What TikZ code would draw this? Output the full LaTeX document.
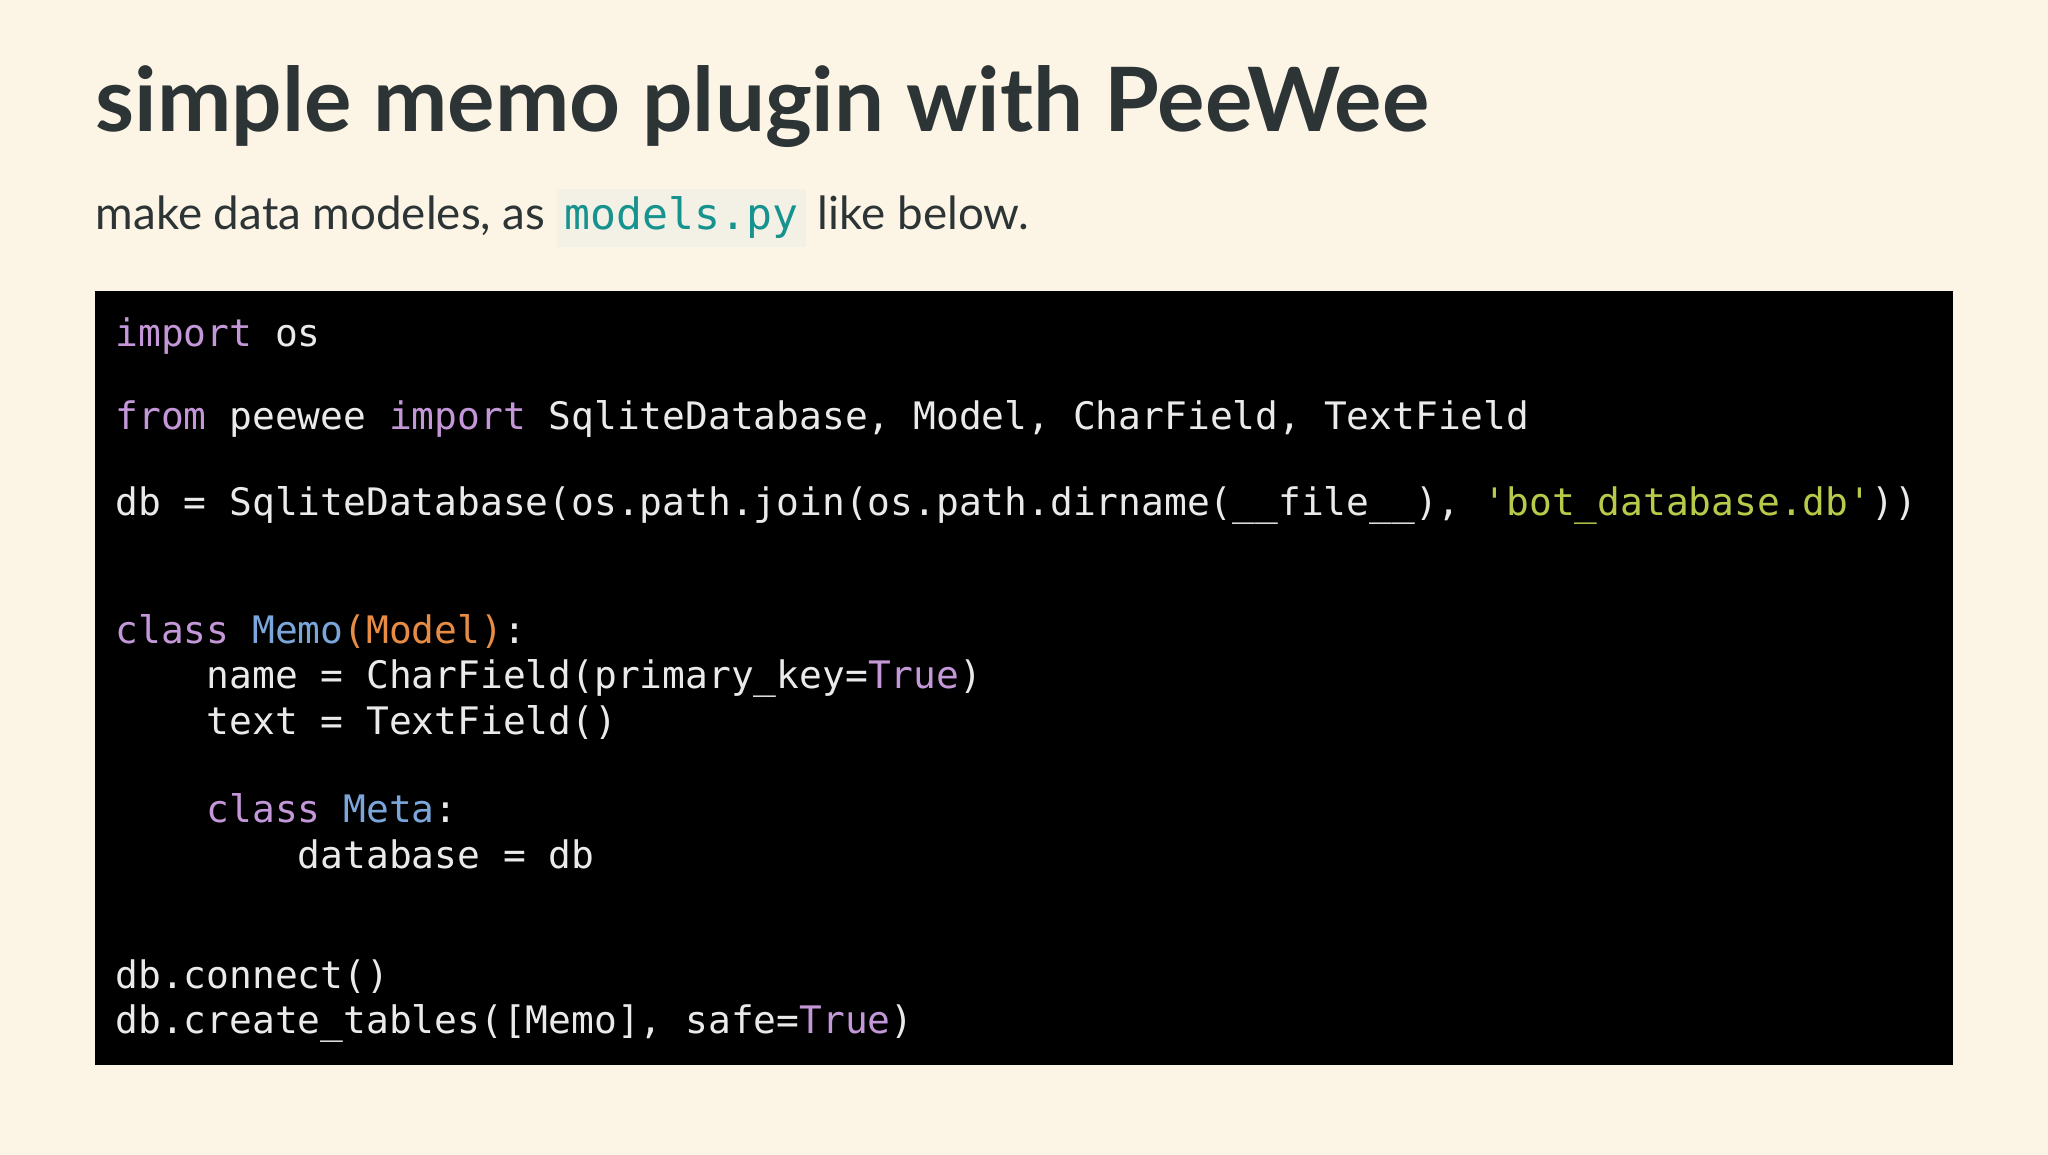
\documentclass[tikz,border=0pt]{standalone}
\usepackage{fontspec}
\setmainfont{Lato}
\newfontfamily\codefont{DejaVu Sans Mono}
\definecolor{bg}{HTML}{FCF5E6}
\definecolor{ttl}{HTML}{2D3436}
\definecolor{kw}{HTML}{C397D8}
\definecolor{cls}{HTML}{7AA6DA}
\definecolor{mdl}{HTML}{E78C45}
\definecolor{str}{HTML}{B9CA4A}
\definecolor{ctext}{HTML}{EAEAEA}
\definecolor{teal}{HTML}{16938E}
\definecolor{inl}{HTML}{F3F1E6}
\tikzset{code/.style={anchor=base west,inner sep=0pt,text=ctext,font=\codefont\fontsize{14.5}{16}\selectfont}}
\begin{document}
\begin{tikzpicture}[x=0.5pt,y=-0.5pt]
\fill[bg] (0,0) rectangle (1568,884);
\useasboundingbox (0,0) rectangle (1568,884);
\node[anchor=base west,inner sep=0pt,text=ttl,font=\bfseries\fontsize{34}{40}\selectfont] (title) at (73,101) {simple memo plugin with PeeWee};
\node[anchor=base west,inner sep=0pt,text=ttl,font=\fontsize{17.5}{20}\selectfont] (sub) at (73,176) {make data modeles, as \colorbox{inl}{\textcolor{teal}{\codefont\fontsize{16.5}{18}\selectfont models.py}} like below.};
\fill[black] (73,223) rectangle (1495,815);
\node[code] (l1) at (88,265) {\textcolor{kw}{import} os};
\node[code] (l2) at (88,329) {\textcolor{kw}{from} peewee \textcolor{kw}{import} SqliteDatabase, Model, CharField, TextField};
\node[code] (l3) at (88,395) {db = SqliteDatabase(os.path.join(os.path.dirname(\_\_file\_\_), \textcolor{str}{'bot\_database.db'}))};
\node[code] (l4) at (88,493) {\textcolor{kw}{class} \textcolor{cls}{Memo}\textcolor{mdl}{(Model)}:};
\node[code] (l5) at (88,527) {\phantom{xxxx}name = CharField(primary\_key=\textcolor{kw}{True})};
\node[code] (l6) at (88,562) {\phantom{xxxx}text = TextField()};
\node[code] (l7) at (88,630) {\phantom{xxxx}\textcolor{kw}{class} \textcolor{cls}{Meta}:};
\node[code] (l8) at (88,665) {\phantom{xxxxxxxx}database = db};
\node[code] (l9) at (88,757) {db.connect()};
\node[code] (l10) at (88,791) {db.create\_tables([Memo], safe=\textcolor{kw}{True})};
\end{tikzpicture}
\end{document}
